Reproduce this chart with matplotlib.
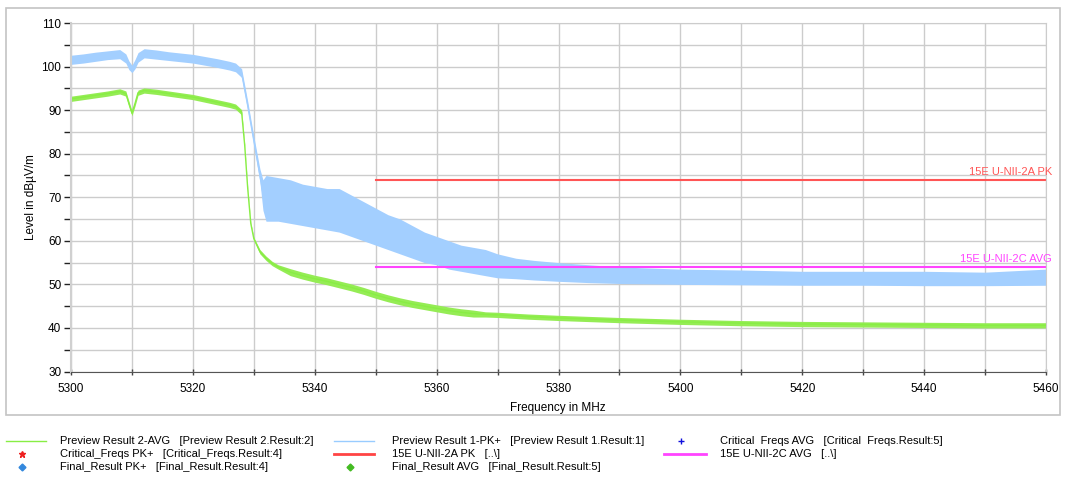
import matplotlib
matplotlib.use("Agg")
import matplotlib.pyplot as plt
from matplotlib.patches import Rectangle
from matplotlib.lines import Line2D
import numpy as np

plt.rcParams['font.family'] = ['Liberation Sans', 'DejaVu Sans']

# ---------------- data ----------------
pk_freq = [5300, 5302, 5304, 5306, 5308, 5309, 5309.5, 5310, 5310.5, 5311, 5312, 5314, 5316, 5318,
           5320, 5322, 5324, 5326, 5327, 5328, 5329, 5330, 5331, 5331.5, 5332, 5334, 5336, 5338,
           5340, 5342, 5344, 5346, 5348, 5350, 5352, 5354, 5356, 5358, 5360, 5362, 5364, 5366,
           5368, 5370, 5373, 5376, 5380, 5385, 5390, 5400, 5410, 5420, 5430, 5440, 5450, 5460]
pk_mid = [101.5, 101.8, 102.2, 102.6, 102.8, 101.8, 100.3, 99.4, 100.5, 102.0, 103.0, 102.7, 102.4, 102.1,
          101.8, 101.3, 100.8, 100.2, 99.8, 98.5, 91.0, 83.0, 75.0, 71.0, 68.5, 68.5, 68.0, 67.5,
          67.0, 66.5, 65.5, 64.8, 64.0, 62.5, 61.0, 60.0, 58.8, 57.5, 56.5, 55.8, 55.0, 54.4,
          54.0, 53.6, 53.2, 52.9, 52.6, 52.2, 51.9, 51.6, 51.4, 51.2, 51.2, 51.1, 51.1, 51.2]
pk_lo = [100.5, 100.8, 101.2, 101.6, 101.8, 100.8, 99.3, 98.6, 99.5, 101.0, 102.0, 101.7, 101.4, 101.1,
         100.8, 100.3, 99.8, 99.2, 98.8, 97.5, 90.0, 82.0, 73.5, 67.0, 64.5, 64.5, 64.0, 63.5,
         63.0, 62.5, 62.0, 61.0, 60.0, 59.0, 58.0, 57.0, 56.0, 55.0, 54.5, 53.5, 53.0, 52.5,
         52.0, 51.5, 51.3, 51.0, 50.7, 50.4, 50.2, 50.0, 49.9, 49.8, 49.8, 49.7, 49.7, 49.8]
pk_hi = [102.6, 102.9, 103.3, 103.6, 103.9, 102.9, 101.3, 100.3, 101.6, 103.2, 104.1, 103.8, 103.4, 103.1,
         102.8, 102.3, 101.8, 101.2, 100.8, 99.5, 92.0, 84.0, 76.5, 74.0, 75.0, 74.5, 74.0, 73.0,
         72.5, 72.0, 72.0, 70.5, 69.0, 67.5, 66.0, 65.0, 63.5, 62.0, 61.0, 60.0, 59.0, 58.5,
         58.0, 57.0, 56.0, 55.5, 55.0, 54.5, 54.0, 53.5, 53.3, 53.0, 53.0, 53.0, 52.8, 53.5]

avg_freq = [5300, 5302, 5304, 5306, 5308, 5309, 5309.5, 5310, 5310.5, 5311, 5312, 5314, 5316, 5318,
            5320, 5322, 5324, 5326, 5327, 5328, 5328.5, 5329, 5329.5, 5330, 5331, 5332, 5333, 5334,
            5336, 5338, 5340, 5342, 5344, 5346, 5348, 5350, 5352, 5354, 5356, 5358, 5360, 5362,
            5364, 5366, 5368, 5370, 5375, 5380, 5390, 5400, 5410, 5420, 5430, 5440, 5450, 5460]
avg_mid = [92.6, 93.0, 93.4, 93.8, 94.3, 93.8, 91.5, 89.3, 91.5, 94.0, 94.5, 94.2, 93.8, 93.4,
           93.0, 92.4, 91.8, 91.2, 90.8, 89.5, 82.0, 72.0, 64.0, 60.5, 57.5, 56.0, 54.8, 54.0,
           52.8, 52.0, 51.3, 50.7, 50.0, 49.3, 48.5, 47.6, 46.8, 46.1, 45.5, 45.0, 44.5, 44.0,
           43.6, 43.3, 43.1, 43.0, 42.6, 42.3, 41.8, 41.4, 41.1, 40.9, 40.8, 40.7, 40.6, 40.6]
avg_noise = [0.6] * 20 + [0.3] * 4 + [0.5] * 4 + [0.8] * 16 + [0.6] * 12

x_ticks = [5300, 5320, 5340, 5360, 5380, 5400, 5420, 5440, 5460]
y_ticks = [30, 40, 50, 60, 70, 80, 90, 100, 110]

limit_pk_freq = [5350, 5460]
limit_pk_level = [74, 74]
limit_avg_freq = [5350, 5460]
limit_avg_level = [54, 54]

legend_entries = [
    ("line", "#88ee44", "Preview Result 2-AVG   [Preview Result 2.Result:2]"),
    ("line", "#99ccff", "Preview Result 1-PK+   [Preview Result 1.Result:1]"),
    ("plus", "#1010dd", "Critical  Freqs AVG   [Critical  Freqs.Result:5]"),
    ("star", "#ee2020", "Critical_Freqs PK+   [Critical_Freqs.Result:4]"),
    ("line", "#ff4444", "15E U-NII-2A PK   [..\\]"),
    ("line", "#ff44ff", "15E U-NII-2C AVG   [..\\]"),
    ("diamond", "#3388dd", "Final_Result PK+   [Final_Result.Result:4]"),
    ("diamond", "#44bb22", "Final_Result AVG   [Final_Result.Result:5]"),
]

# ---------------- figure ----------------
W, H = 1065, 478
fig = plt.figure(figsize=(W / 100, H / 100), dpi=100)

def fx(px):
    return px / W

def fy(py):
    return 1 - py / H

# outer frame
fig.patches.append(Rectangle((fx(6), fy(415)), fx(1060) - fx(6), fy(8) - fy(415),
                             transform=fig.transFigure, fill=False, edgecolor="#c4c4c4", lw=1.2))

ax = fig.add_axes([fx(71), fy(371.5), fx(1046) - fx(71), fy(23) - fy(371.5)])
ax.set_xlim(5300, 5460)
ax.set_ylim(30, 110)

ax.set_xticks(x_ticks)
ax.set_xticks(np.arange(5300, 5461, 10), minor=True)
ax.set_yticks(y_ticks)
ax.set_yticks(np.arange(30, 111, 5), minor=True)
ax.grid(True, which="both", color="#cccccc", lw=1.0)
ax.set_axisbelow(True)

for s in ["top", "right"]:
    ax.spines[s].set_color("#cccccc")
ax.spines["left"].set_color("#d0d0d0")
ax.spines["left"].set_linewidth(1.5)
ax.spines["bottom"].set_color("#555555")
ax.tick_params(axis="y", which="both", length=5, width=1, color="#222222", labelsize=8.5, pad=2)
ax.tick_params(axis="x", which="both", length=4, width=1, color="#444444", direction="inout", labelsize=8.5, pad=6)

# traces
ax.fill_between(pk_freq, pk_lo, pk_hi, color="#a3cfff", lw=0)
ax.plot(pk_freq, pk_mid, color="#a3cfff", lw=1.0)

avg_lo = [m - n for m, n in zip(avg_mid, avg_noise)]
avg_hi = [m + n for m, n in zip(avg_mid, avg_noise)]
ax.fill_between(avg_freq, avg_lo, avg_hi, color="#95ec55", lw=0)
ax.plot(avg_freq, avg_mid, color="#88ee44", lw=1.0)

ax.plot(limit_pk_freq, limit_pk_level, color="#ff5555", lw=1.5)
ax.plot(limit_avg_freq, limit_avg_level, color="#ff44ff", lw=1.5)
ax.text(5461, limit_pk_level[-1] + 0.6, "15E U-NII-2A PK", color="#ff5555", fontsize=8,
        ha="right", va="bottom", clip_on=False)
ax.text(5461, limit_avg_level[-1] + 0.6, "15E U-NII-2C AVG", color="#ff44ff", fontsize=8,
        ha="right", va="bottom", clip_on=False)

ax.set_ylabel("Level in dBµV/m", fontsize=8.5, labelpad=3)
fig.text(fx(558), fy(408), "Frequency in MHz", ha="center", va="center", fontsize=8.5)

# legend (manual grid)
col_sample = [(6, 46), (334, 374), (664, 706)]
col_text = [60, 392, 720]
rows = [441, 454, 467]
for i, (kind, color, label) in enumerate(legend_entries):
    r, c = divmod(i, 3)
    y = fy(rows[r])
    x0, x1 = col_sample[c]
    if kind == "line":
        lw = 2.0 if color in ("#ff4444", "#ff44ff") else 1.0
        fig.lines.append(Line2D([fx(x0), fx(x1)], [y, y], transform=fig.transFigure, color=color, lw=lw))
    else:
        m = {"plus": "+", "star": "*", "diamond": "D"}[kind]
        ms = {"plus": 5, "star": 5, "diamond": 3.5}[kind]
        fig.lines.append(Line2D([fx((x0 + x1) / 2 - 4)], [y], transform=fig.transFigure, marker=m,
                                color=color, ms=ms, lw=0))
    fig.text(fx(col_text[c]), y, label, ha="left", va="center", fontsize=8)

fig.savefig("out.png", dpi=100)
